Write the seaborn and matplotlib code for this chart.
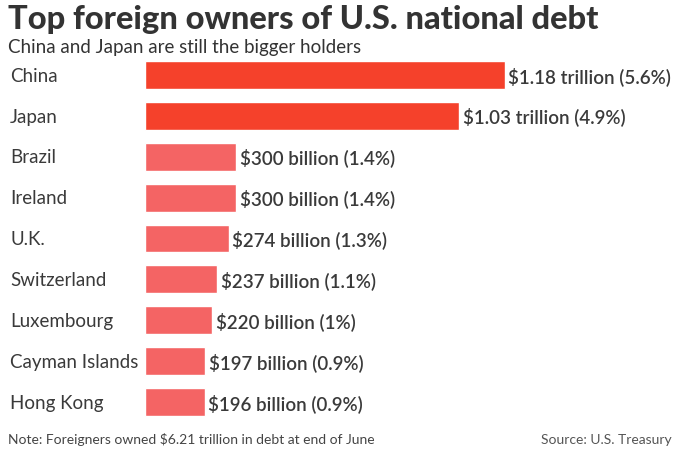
import matplotlib
matplotlib.use("Agg")
import matplotlib.pyplot as plt
import matplotlib.transforms as mtransforms
import seaborn as sns
import pandas as pd

# Data (billions of dollars)
countries = ["China", "Japan", "Brazil", "Ireland", "U.K.", "Switzerland",
             "Luxembourg", "Cayman Islands", "Hong Kong"]
holdings = [1180, 1030, 300, 300, 274, 237, 220, 197, 196]
labels = ["$1.18 trillion (5.6%)", "$1.03 trillion (4.9%)", "$300 billion (1.4%)",
          "$300 billion (1.4%)", "$274 billion (1.3%)", "$237 billion (1.1%)",
          "$220 billion (1%)", "$197 billion (0.9%)", "$196 billion (0.9%)"]
groups = ["top", "top", "rest", "rest", "rest", "rest", "rest", "rest", "rest"]

df = pd.DataFrame({"country": countries, "holdings": holdings, "group": groups})

sns.set_theme(style="white")
plt.rcParams["font.family"] = ["Lato", "DejaVu Sans"]

fig = plt.figure(figsize=(6.75, 4.5), dpi=100)
fig.patch.set_facecolor("white")
ax = fig.add_axes([145 / 675, 27.5 / 450, 530 / 675, 368 / 450])

sns.barplot(data=df, y="country", x="holdings", hue="group",
            palette={"top": "#F5412B", "rest": "#F46464"}, saturation=1,
            dodge=False, legend=False, width=0.68, ax=ax, orient="h")

ax.set_xlim(0, 1738)
ax.set_ylim(8.5, -0.5)
ax.set_xlabel("")
ax.set_ylabel("")
ax.set_xticks([])
ax.set_yticks([])
for s in ax.spines.values():
    s.set_visible(False)
ax.set_facecolor("none")

# country names, left aligned at the figure edge
trans = mtransforms.blended_transform_factory(fig.transFigure, ax.transData)
for i, c in enumerate(countries):
    ax.text(10 / 675, i + 0.03, c, transform=trans, va="center", ha="left",
            fontsize=13.5, color="#3a3a3a")

for i, (v, t) in enumerate(zip(holdings, labels)):
    ax.text(v + 12, i + 0.03, t, va="center", ha="left", fontsize=13.5,
            color="#3a3a3a", fontweight="semibold")

fig.text(8 / 675, 1 - 20 / 450, "Top foreign owners of U.S. national debt",
         fontsize=23.5, fontweight="black", color="#333333", va="center", ha="left")
fig.text(8 / 675, 1 - 47 / 450, "China and Japan are still the bigger holders",
         fontsize=13.5, color="#333333", va="center", ha="left")
fig.text(8 / 675, 1 - 440 / 450, "Note: Foreigners owned $6.21 trillion in debt at end of June",
         fontsize=10, color="#444444", va="center", ha="left")
fig.text(672 / 675, 1 - 440 / 450, "Source: U.S. Treasury",
         fontsize=10, color="#555555", va="center", ha="right")

fig.savefig("out.png", dpi=100, facecolor="white")
